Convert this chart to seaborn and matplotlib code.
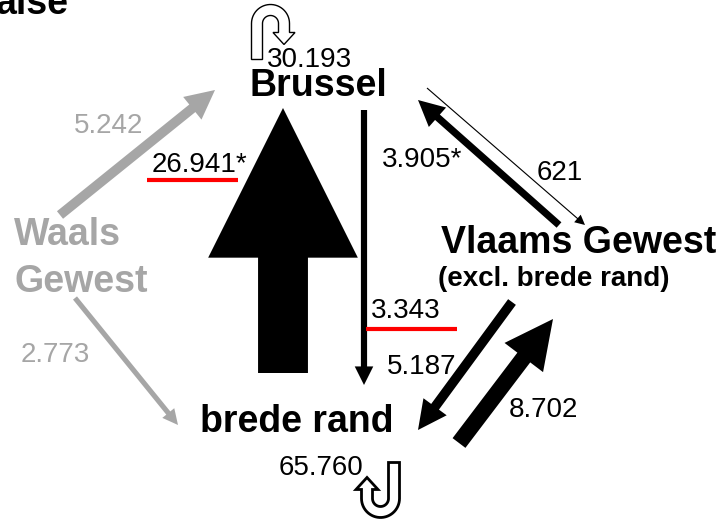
import numpy as np
import matplotlib
matplotlib.use('Agg')
import matplotlib.pyplot as plt
from matplotlib.patches import FancyArrow, Polygon
import seaborn as sns

sns.set_style('white')
plt.rcParams['font.family'] = ['Liberation Sans', 'DejaVu Sans']
plt.rcParams['text.color'] = 'black'

# pendelstromen tussen de regio's
van = ['brede rand', 'Brussel', 'Vlaams Gewest', 'Brussel',
       'Vlaams Gewest', 'brede rand', 'Waals Gewest', 'Waals Gewest']
naar = ['Brussel', 'brede rand', 'Brussel', 'Vlaams Gewest',
        'brede rand', 'Vlaams Gewest', 'Brussel', 'brede rand']
aantal = [26941, 3343, 3905, 621, 5187, 8702, 5242, 2773]
labels = ['26.941*', '3.343', '3.905*', '621', '5.187', '8.702', '5.242', '2.773']

# binnen de eigen regio
intern_regio = ['Brussel', 'brede rand']
intern_aantal = [30193, 65760]
intern_labels = ['30.193', '65.760']

# layout (pixels, y naar beneden)
pijl_start = [(283, 373), (364, 110), (559, 225), (427, 88),
              (512, 302), (459, 443), (60, 215), (75, 298)]
pijl_eind = [(283, 108), (364, 385), (418, 100), (585, 225),
             (418, 430), (553, 319), (215, 90), (178, 425)]
label_pos = [(152, 172), (371, 318), (382, 167), (537, 180),
             (387, 374), (509, 417), (74, 133), (21, 362)]
onderlijn = {0: (147, 238, 180), 1: (366, 457, 329)}

grijs = '#A6A6A6'
rood = '#FF0000'

fig = plt.figure(figsize=(7.2, 5.2), dpi=100)
ax = fig.add_axes([0, 0, 1, 1])
ax.set_xlim(0, 720)
ax.set_ylim(520, 0)
ax.axis('off')

# pijlen, breedte volgens aantal pendelaars
for i in range(len(aantal)):
    kleur = grijs if van[i] == 'Waals Gewest' else 'black'
    x0, y0 = pijl_start[i]
    x1, y1 = pijl_eind[i]
    w = max(aantal[i] / 540, 1.0)
    hw = max(3 * w, 10)
    if aantal[i] == 3905:
        hw = 26
    ax.add_patch(FancyArrow(x0, y0, x1 - x0, y1 - y0, width=w,
                            head_width=hw, head_length=hw,
                            length_includes_head=True,
                            facecolor=kleur, edgecolor='none'))
    ax.text(label_pos[i][0], label_pos[i][1], labels[i], fontsize=20,
            color=kleur, ha='left', va='baseline')
    if i in onderlijn:
        a, b, y = onderlijn[i]
        ax.plot([a, b], [y, y], color=rood, lw=3, solid_capstyle='butt')


# U-bocht pijlen voor de interne pendel
def ubocht(cx, cy, draai, lw):
    r_in, r_out = 8, 19
    rm = (r_in + r_out) / 2
    l_staart, l_kop, hl, hw = 36, 9, 12, 22
    t = np.linspace(np.pi, 0, 30)
    pts = [(-r_out, l_staart)]
    pts += list(zip(r_out * np.cos(t), -r_out * np.sin(t)))
    pts += [(r_out, l_kop), (rm + hw / 2, l_kop), (rm, l_kop + hl),
            (rm - hw / 2, l_kop), (r_in, l_kop)]
    pts += list(zip(r_in * np.cos(t[::-1]), -r_in * np.sin(t[::-1])))
    pts += [(-r_in, l_staart)]
    pts = np.array(pts)
    if draai:
        pts = -pts
    pts = pts + [cx, cy]
    ax.add_patch(Polygon(pts, closed=True, facecolor='white',
                         edgecolor='black', lw=lw, joinstyle='miter'))


ubocht(270.5, 23.5, False, 1.0)
ubocht(380.5, 498.5, True, 2.0)

ax.text(267, 67, intern_labels[0], fontsize=20, ha='left', va='baseline')
ax.text(363, 475, intern_labels[1], fontsize=20, ha='right', va='baseline')

# regio's
ax.text(249, 96, 'Brussel', fontsize=27, fontweight='bold', va='baseline')
ax.text(441, 253, 'Vlaams Gewest', fontsize=27, fontweight='bold', va='baseline')
ax.text(438, 286, '(excl. brede rand)', fontsize=20, fontweight='bold', va='baseline')
ax.text(200, 432, 'brede rand', fontsize=27, fontweight='bold', va='baseline')
ax.text(14, 245, 'Waals', fontsize=27, fontweight='bold', color=grijs, va='baseline')
ax.text(14, 292, 'Gewest', fontsize=27, fontweight='bold', color=grijs, va='baseline')

# afgesneden titel
ax.text(69, 14, 'alse', fontsize=27, fontweight='bold', ha='right', va='baseline')

fig.savefig('out.png', dpi=100)
plt.close()
